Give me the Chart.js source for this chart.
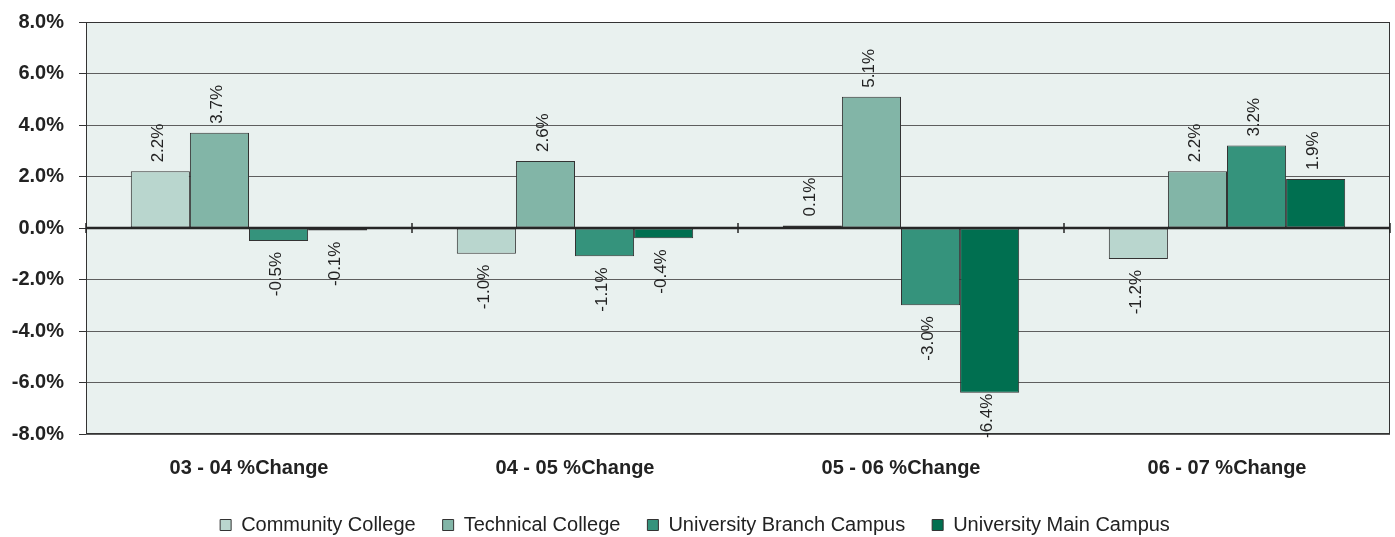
<!DOCTYPE html>
<html>
<head>
<meta charset="utf-8">
<script src="https://cdn.jsdelivr.net/npm/chart.js@4"></script>
<style>
  html, body { margin: 0; padding: 0; background: #ffffff; }
  #wrap { width: 1395px; height: 537px; }
</style>
</head>
<body>
<div id="wrap"><canvas id="c" width="1395" height="537"></canvas></div>
<script>
const categories = ['03 - 04 %Change', '04 - 05 %Change', '05 - 06 %Change', '06 - 07 %Change'];
const seriesNames = ['Community College', 'Technical College', 'University Branch Campus', 'University Main Campus'];
const communityCollege = [2.2, -1.0, 0.1, -1.2];
const technicalCollege = [3.7, 2.6, 5.1, 2.2];
const universityBranch = [-0.5, -1.1, -3.0, 3.2];
const universityMain = [-0.1, -0.4, -6.4, 1.9];
const yTicks = [-8, -6, -4, -2, 0, 2, 4, 6, 8];

const colors = ['#b9d6ce', '#82b5a7', '#35937c', '#006f50'];
const seriesValues = [communityCollege, technicalCollege, universityBranch, universityMain];

const FONT = "'Liberation Sans', Arial, sans-serif";

const decorPlugin = {
  id: 'decor',
  beforeDraw(chart) {
    const { ctx, chartArea: a } = chart;
    ctx.save();
    ctx.fillStyle = '#e9f1ef';
    ctx.fillRect(a.left, a.top, a.right - a.left, a.bottom - a.top);
    ctx.restore();
  },
  afterDatasetsDraw(chart) {
    const { ctx, chartArea: a, scales: { x, y } } = chart;
    const y0 = Math.round(y.getPixelForValue(0));
    ctx.save();
    ctx.strokeStyle = '#333333';
    ctx.lineWidth = 1;
    ctx.strokeRect(a.left + 0.5, a.top + 0.5, a.right - a.left - 1, a.bottom - a.top - 1);
    ctx.strokeStyle = '#262626';
    ctx.lineWidth = 2.5;
    ctx.beginPath();
    ctx.moveTo(a.left, y0);
    ctx.lineTo(a.right, y0);
    ctx.stroke();
    ctx.lineWidth = 1.5;
    for (let i = 0; i <= categories.length; i++) {
      const xb = Math.round(x.getPixelForValue(i - 0.5));
      ctx.beginPath();
      ctx.moveTo(xb, y0 - 5);
      ctx.lineTo(xb, y0 + 5);
      ctx.stroke();
    }
    ctx.fillStyle = '#222222';
    ctx.font = '17px ' + FONT;
    ctx.textBaseline = 'middle';
    chart.data.datasets.forEach((ds, di) => {
      const meta = chart.getDatasetMeta(di);
      meta.data.forEach((el, i) => {
        const v = ds.data[i];
        const label = v.toFixed(1) + '%';
        const w = ctx.measureText(label).width;
        ctx.save();
        if (v >= 0) {
          ctx.translate(el.x - 2, el.y - 9);
          ctx.rotate(-Math.PI / 2);
          ctx.textAlign = 'left';
          ctx.fillText(label, 0, 0);
        } else {
          let start = el.y + 11;
          if (start + w > a.bottom + 4) start = a.bottom + 4 - w;
          ctx.translate(el.x - 2, start);
          ctx.rotate(-Math.PI / 2);
          ctx.textAlign = 'right';
          ctx.fillText(label, 0, 0);
        }
        ctx.restore();
      });
    });
    ctx.restore();
  }
};

new Chart(document.getElementById('c'), {
  type: 'bar',
  data: {
    labels: categories,
    datasets: seriesNames.map((name, i) => ({
      label: name,
      data: seriesValues[i],
      backgroundColor: colors[i],
      borderColor: '#333333',
      borderWidth: 1,
      borderSkipped: false,
      categoryPercentage: 0.725,
      barPercentage: 1.0
    }))
  },
  options: {
    responsive: false,
    animation: false,
    layout: { padding: { top: 22, right: 5, left: 0, bottom: 0 } },
    plugins: {
      tooltip: { enabled: false },
      legend: {
        position: 'bottom',
        maxHeight: 49,
        labels: {
          boxWidth: 11,
          boxHeight: 11,
          padding: 27,
          color: '#222222',
          font: { family: FONT, size: 20 }
        }
      }
    },
    scales: {
      x: {
        grid: { display: false },
        border: { display: false },
        ticks: {
          color: '#222222',
          padding: 14,
          font: { family: FONT, size: 20, weight: 'bold' }
        },
        afterFit(scale) { scale.height = 54; scale.paddingLeft = 0; scale.paddingRight = 0; }
      },
      y: {
        min: -8,
        max: 8,
        afterBuildTicks(scale) { scale.ticks = yTicks.map(v => ({ value: v })); },
        grid: {
          color: '#5e5e5e',
          lineWidth: 1,
          tickLength: 7,
          drawTicks: true,
          tickColor: '#333333'
        },
        border: { display: false },
        ticks: {
          color: '#222222',
          padding: 15,
          font: { family: FONT, size: 20, weight: 'bold' },
          callback: v => v.toFixed(1) + '%'
        },
        afterFit(scale) { scale.width = 86; scale.paddingTop = 0; scale.paddingBottom = 0; }
      }
    }
  },
  plugins: [decorPlugin]
});
</script>
</body>
</html>
